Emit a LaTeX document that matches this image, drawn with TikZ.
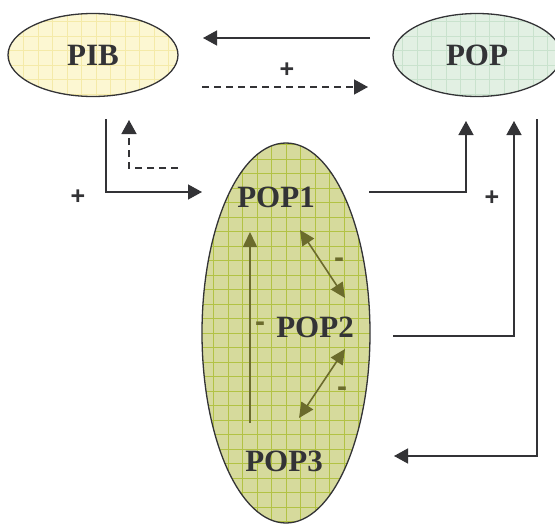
\documentclass[tikz,border=0pt]{standalone}
\usepackage{fontspec}
\setmainfont{Liberation Serif}
\newfontfamily\signfont{Liberation Sans}
\usetikzlibrary{shapes.geometric,arrows.meta,calc}

\definecolor{ink}{HTML}{333336}
\definecolor{olive}{HTML}{6B6B2C}
\definecolor{pibfill}{HTML}{FCF7D2}
\definecolor{pibgrid}{HTML}{F4EAA8}
\definecolor{popfill}{HTML}{E2F0E3}
\definecolor{popgrid}{HTML}{C9E2CD}
\definecolor{groupfill}{HTML}{D6DA9C}
\definecolor{groupgrid}{HTML}{B2C244}

\tikzset{
  bubble/.style={ellipse, draw=ink, line width=1.3pt, inner sep=0pt,
    font=\fontsize{31}{36}\selectfont\bfseries, text=ink},
  gridded/.style 2 args={fill=#1,
    path picture={\draw[#2, line width=0.7pt]
      (path picture bounding box.south west) grid[step=14.5pt]
      (path picture bounding box.north east);}},
  species/.style={font=\fontsize{31}{36}\selectfont\bfseries, text=ink, inner sep=1pt},
  conn/.style={draw=ink, line width=1.4pt, -{Triangle[length=14pt,width=15pt]}},
  dashconn/.style={conn, dash pattern=on 7pt off 5pt},
  inner/.style={draw=olive, line width=1.6pt, -{Triangle[length=15pt,width=14pt]}},
  innerboth/.style={draw=olive, line width=1.6pt, {Triangle[length=15pt,width=14pt]}-{Triangle[length=15pt,width=14pt]}},
  plus/.style={font=\signfont\bfseries\fontsize{25}{25}\selectfont, text=ink, inner sep=0pt},
  minus/.style={font=\signfont\bfseries\fontsize{30}{30}\selectfont, text=olive, inner sep=0pt},
}

\begin{document}
\begin{tikzpicture}[x=1pt, y=-1pt]
  \useasboundingbox (0,0) rectangle (555,525);

  % the three populations and the two aggregate quantities
  \node[bubble, gridded={pibfill}{pibgrid}, minimum width=170pt, minimum height=83pt] (pib) at (93,55) {PIB};
  \node[bubble, gridded={popfill}{popgrid}, minimum width=168pt, minimum height=83pt] (pop) at (477,55) {POP};
  \node[bubble, gridded={groupfill}{groupgrid}, minimum width=168pt, minimum height=380pt] (group) at (286,333) {};

  \node[species] (pop1) at (276,197) {POP1};
  \node[species] (pop2) at (315,327) {POP2};
  \node[species] (pop3) at (284,461) {POP3};

  % connector end points
  \coordinate (topR)   at (370,38);
  \coordinate (topL)   at (203,38);
  \coordinate (dashL)  at (202,87);
  \coordinate (dashR)  at (368,87);
  \coordinate (pibOut) at (106,119);
  \coordinate (pibIn)  at (202,192);
  \coordinate (fbStart) at (178,168);
  \coordinate (fbEnd)  at (129,120);
  \coordinate (p1Out)  at (369,192);
  \coordinate (p1In)   at (466,121);
  \coordinate (p2Out)  at (393,336);
  \coordinate (p2In)   at (514,121);
  \coordinate (popOut) at (537,119);
  \coordinate (p3In)   at (394,456);

  % links between POP and PIB
  \draw[conn] (topR) -- (topL);
  \draw[dashconn] (dashL) -- (dashR);
  \node[plus] (plusTop) at (287,70) {+};

  % PIB feeding the first group, and its dashed return
  \draw[conn] (pibOut) |- (pibIn);
  \draw[dashconn] (fbStart) -| (fbEnd);
  \node[plus] (plusLeft) at (78,197) {+};

  % groups adding up to POP, POP feeding back to POP3
  \draw[conn] (p1Out) -| (p1In);
  \draw[conn] (p2Out) -| (p2In);
  \draw[conn] (popOut) |- (p3In);
  \node[plus] (plusRight) at (492,198) {+};

  % interactions inside the population
  \coordinate (upStart) at (250,423);
  \coordinate (upEnd)   at (250,232);
  \draw[inner] (upStart) -- (upEnd);
  \node[minus] (m1) at (260,327) {-};

  \coordinate (d1a) at (300,230);
  \coordinate (d1b) at (345,298);
  \draw[innerboth] (d1a) -- (d1b);
  \node[minus] (m2) at (339,263) {-};

  \coordinate (d2a) at (345,349);
  \coordinate (d2b) at (299,418);
  \draw[innerboth] (d2a) -- (d2b);
  \node[minus] (m3) at (342,392) {-};
\end{tikzpicture}
\end{document}
